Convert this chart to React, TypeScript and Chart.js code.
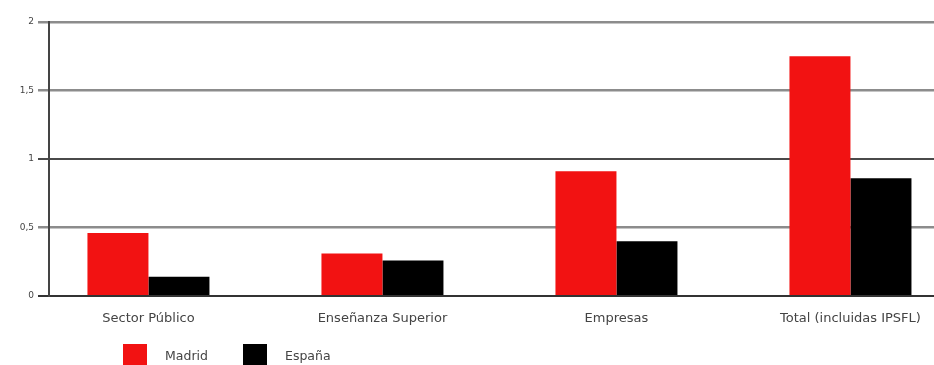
import React, { useEffect, useRef } from "react";
import { Chart, registerables } from "chart.js";

Chart.register(...registerables);

const categories = [
  "Sector Público",
  "Enseñanza Superior",
  "Empresas",
  "Total (incluidas IPSFL)",
];
const madrid = [0.46, 0.31, 0.91, 1.75];
const espana = [0.14, 0.26, 0.4, 0.86];
const seriesNames = ["Madrid", "España"];
const seriesColors = ["#f21212", "#000000"];
const yTicks = [0, 0.5, 1, 1.5, 2];

const FONT = "'DejaVu Sans', sans-serif";

// Legend drawn under the x labels, left-aligned beneath the first category
const bottomLegend = {
  id: "bottomLegend",
  afterDraw(chart: any) {
    const ctx = chart.ctx;
    const startX = 123;
    const top = 344;
    const boxW = 24;
    const boxH = 22;
    const itemStep = 120;
    ctx.save();
    ctx.font = `12.5px ${FONT}`;
    ctx.textBaseline = "middle";
    ctx.textAlign = "left";
    chart.data.datasets.forEach((ds: any, i: number) => {
      const x = startX + i * itemStep;
      ctx.fillStyle = ds.backgroundColor;
      ctx.fillRect(x, top, boxW, boxH);
      ctx.fillStyle = "#444";
      ctx.fillText(ds.label, x + 42, top + 13);
    });
    ctx.restore();
  },
};

export default function App() {
  const canvasRef = useRef<HTMLCanvasElement | null>(null);

  useEffect(() => {
    if (!canvasRef.current) return;
    const chart = new Chart(canvasRef.current, {
      type: "bar",
      data: {
        datasets: [madrid, espana].map((vals, s) => ({
          label: seriesNames[s],
          data: vals.map((v, i) => ({ x: i, y: v })),
          backgroundColor: seriesColors[s],
          borderWidth: 0,
          categoryPercentage: 122 / 234,
          barPercentage: 1,
        })),
      },
      options: {
        animation: false,
        responsive: true,
        maintainAspectRatio: false,
        layout: { padding: { top: 22, left: 0, right: 0, bottom: 0 } },
        plugins: {
          legend: { display: false },
          tooltip: { enabled: false },
        },
        scales: {
          x: {
            type: "linear",
            offset: false,
            bounds: "data",
            min: -0.425,
            max: 3.357,
            grid: { display: false },
            border: { display: false },
            afterBuildTicks: (scale: any) => {
              scale.ticks = categories.map((_, i) => ({ value: i }));
            },
            afterFit: (scale: any) => {
              scale.height = 69;
            },
            ticks: {
              autoSkip: false,
              maxRotation: 0,
              padding: 7,
              color: "#444",
              font: { family: FONT, size: 13 },
              callback: (v: any) => categories[v as number] ?? "",
            },
          },
          y: {
            min: 0,
            max: 2,
            afterBuildTicks: (scale: any) => {
              scale.ticks = yTicks.map((v) => ({ value: v }));
            },
            afterFit: (scale: any) => {
              scale.width = 49;
            },
            border: { display: true, color: "#444", width: 2 },
            grid: {
              tickLength: 11,
              color: (c: any) =>
                c.tick && c.tick.value === 0
                  ? "#333"
                  : c.tick && c.tick.value === 1
                  ? "#4a4a4a"
                  : "#8c8c8c",
              lineWidth: (c: any) =>
                c.tick && (c.tick.value === 0 || c.tick.value === 1) ? 2 : 2.5,
            },
            ticks: {
              padding: 4,
              color: "#444",
              font: { family: FONT, size: 9 },
              callback: (v: any) => String(v).replace(".", ","),
            },
          },
        },
      },
      plugins: [bottomLegend],
    });
    return () => chart.destroy();
  }, []);

  return (
    <div
      style={{
        position: "absolute",
        left: 0,
        top: 0,
        width: 934,
        height: 365,
        background: "#fff",
      }}
    >
      <canvas ref={canvasRef} />
    </div>
  );
}
